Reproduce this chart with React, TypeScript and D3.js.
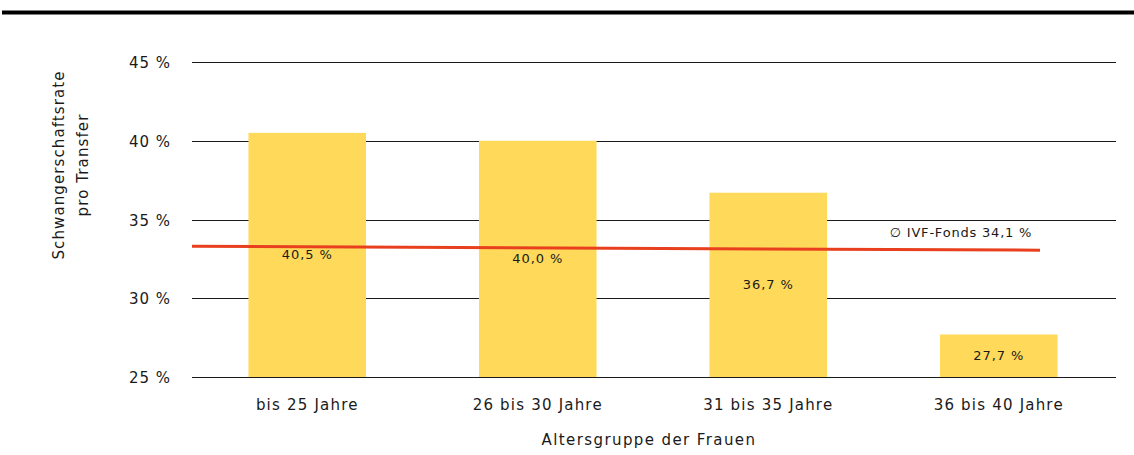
import React from 'react';
import * as d3 from 'd3';

const categories = ['bis 25 Jahre', '26 bis 30 Jahre', '31 bis 35 Jahre', '36 bis 40 Jahre'];
const rates = [40.5, 40.0, 36.7, 27.7];
const rateLabels = ['40,5 %', '40,0 %', '36,7 %', '27,7 %'];
const yTicks = [25, 30, 35, 40, 45];
// the drawn average line in the source slopes a little: values at its two ends
const avgLineValues = [33.3, 33.05];
const avgLabel = '\u2205 IVF-Fonds 34,1 %';

const W = 1134;
const H = 455;
const margin = { top: 62, right: 20, bottom: 78, left: 192 };
const font = '"DejaVu Sans", Verdana, sans-serif';

export default function App() {
  const innerW = W - margin.left - margin.right;
  const innerH = H - margin.top - margin.bottom;

  const x = d3.scaleBand<string>().domain(categories).range([0, innerW]).paddingInner(0.49).paddingOuter(0.245);
  const y = d3.scaleLinear().domain([25, 45]).range([innerH, 0]);

  const lineX = d3.scaleLinear().domain([0, 1]).range([0, 848]);
  const avgLine = d3
    .line<number>()
    .x((_d, i) => lineX(i))
    .y(d => y(d));

  return (
    <svg width={W} height={H} style={{ position: 'absolute', left: 0, top: 0, background: '#fff' }} fontFamily={font} fill="#1a1a1a">
      <rect x={2} y={10.5} width={W - 2} height={4} fill="#000" />
      <g transform={`translate(${margin.left},${margin.top})`}>
        {yTicks.map(t => (
          <g key={t} transform={`translate(0,${Math.round(y(t)) + 0.5})`}>
            <line x1={0} x2={innerW + 2} stroke="#1a1a1a" strokeWidth={1} />
            <text x={-21} dy="0.35em" textAnchor="end" fontSize={15} letterSpacing={1}>
              {t} %
            </text>
          </g>
        ))}
        {categories.map((c, i) => (
          <g key={c}>
            <rect x={x(c)} y={y(rates[i])} width={x.bandwidth()} height={innerH - y(rates[i])} fill="#fed95a" />
            <text
              x={(x(c) || 0) + x.bandwidth() / 2}
              y={(y(rates[i]) + innerH) / 2}
              dy="0.35em"
              textAnchor="middle"
              fontSize={13}
              letterSpacing={0.9}
            >
              {rateLabels[i]}
            </text>
            <text x={(x(c) || 0) + x.bandwidth() / 2} y={innerH + 33} textAnchor="middle" fontSize={15} letterSpacing={1.2}>
              {c}
            </text>
          </g>
        ))}
        <path d={avgLine(avgLineValues) || ''} fill="none" stroke="#e8401f" strokeWidth={3} />
        <text x={769} y={y(35) + 17} textAnchor="middle" fontSize={13} letterSpacing={0.8}>
          {avgLabel}
        </text>
        <text x={innerW / 2 - 4} y={innerH + 68} textAnchor="middle" fontSize={15} letterSpacing={1.4}>
          Altersgruppe der Frauen
        </text>
      </g>
      <text transform="translate(64,165) rotate(-90)" textAnchor="middle" fontSize={15} letterSpacing={1.1}>
        <tspan x={0} dy={0}>Schwangerschaftsrate</tspan>
        <tspan x={0} dy={24}>pro Transfer</tspan>
      </text>
    </svg>
  );
}
